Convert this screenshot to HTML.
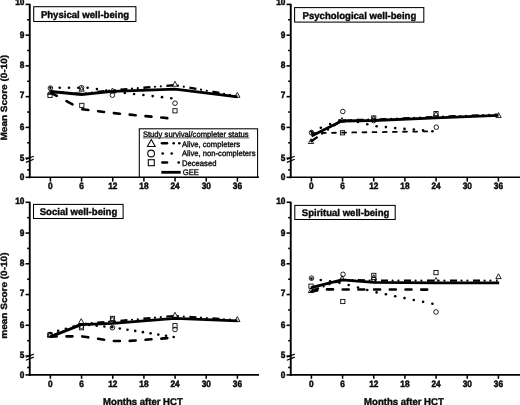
<!DOCTYPE html>
<html><head><meta charset="utf-8"><title>Figure</title>
<style>
html,body{margin:0;padding:0;background:#fff;}
body{width:520px;height:405px;overflow:hidden;}
svg{display:block;filter:blur(0.35px);}
text{font-family:"Liberation Sans",sans-serif;font-weight:bold;fill:#0a0a0a;text-rendering:geometricPrecision;}
.tl{font-size:9.2px;stroke:#0a0a0a;stroke-width:0.5;}
.yl{font-size:10px;stroke:#0a0a0a;stroke-width:0.4;}
.tt{font-size:9.8px;stroke:#0a0a0a;stroke-width:0.4;}
.xl{font-size:9.8px;stroke:#0a0a0a;stroke-width:0.4;}
.lg{font-size:8.0px;font-weight:normal;stroke:#111;stroke-width:0.38;}
.ax{stroke:#000;stroke-width:1.9;fill:none;}
.axt{stroke:#000;stroke-width:1.4;fill:none;}
.tk{stroke:#000;stroke-width:1.55;fill:none;}
.bk{stroke:#000;stroke-width:1.15;fill:none;}
.bx{stroke:#000;stroke-width:1.05;fill:#fff;}
.mk{stroke:#0a0a0a;stroke-width:0.9;fill:none;}
.mkl{stroke:#0a0a0a;stroke-width:1.1;fill:none;}
.dot{fill:#000;stroke:none;}
.gee{stroke:#000;stroke-width:2.8;fill:none;stroke-linejoin:round;}
.ac{stroke:#000;stroke-width:2.3;fill:none;}
.dec{stroke:#000;stroke-width:2.6;fill:none;stroke-linecap:round;}
.dec2{stroke:#000;stroke-width:1.8;fill:none;stroke-linecap:round;}
</style></head><body>
<svg width="520" height="405" viewBox="0 0 520 405">
<rect width="520" height="405" fill="#fff"/>
<g transform="translate(0,0)">
<path d="M29.75,3.8000000000000003 V178.20000000000002" class="ax"/>
<path d="M28.85,177.3 H259.0" class="axt"/>
<path d="M25.55,4.40 H29.75" class="tk"/>
<text transform="translate(24.35,5.35) scale(0.9,1)" class="tl" text-anchor="end">10</text>
<path d="M25.55,35.15 H29.75" class="tk"/>
<text transform="translate(24.35,37.65) scale(0.9,1)" class="tl" text-anchor="end">9</text>
<path d="M25.55,65.90 H29.75" class="tk"/>
<text transform="translate(24.35,67.60) scale(0.9,1)" class="tl" text-anchor="end">8</text>
<path d="M25.55,96.65 H29.75" class="tk"/>
<text transform="translate(24.35,98.40) scale(0.9,1)" class="tl" text-anchor="end">7</text>
<path d="M25.55,127.40 H29.75" class="tk"/>
<text transform="translate(24.35,129.70) scale(0.9,1)" class="tl" text-anchor="end">6</text>
<path d="M25.55,158.15 H29.75" class="tk"/>
<text transform="translate(24.35,160.60) scale(0.9,1)" class="tl" text-anchor="end">5</text>
<path d="M27.15,19.77 H29.75" class="tk"/>
<path d="M27.15,50.52 H29.75" class="tk"/>
<path d="M27.15,81.28 H29.75" class="tk"/>
<path d="M27.15,112.03 H29.75" class="tk"/>
<path d="M27.15,142.78 H29.75" class="tk"/>
<path d="M25.55,177.3 H29.75" class="tk"/>
<text transform="translate(24.35,179.90) scale(0.9,1)" class="tl" text-anchor="end">0</text>
<path d="M27.15,169.90 H29.75" class="tk"/>
<path d="M25.85,159.35 L33.75,156.25 M25.85,162.35 L33.75,159.25" class="bk"/>
<path d="M50.40,177.3 V181.60000000000002" class="tk"/>
<text transform="translate(50.40,189.20) scale(0.9,1)" class="tl" text-anchor="middle">0</text>
<path d="M81.57,177.3 V181.60000000000002" class="tk"/>
<text transform="translate(81.57,189.20) scale(0.9,1)" class="tl" text-anchor="middle">6</text>
<path d="M112.74,177.3 V181.60000000000002" class="tk"/>
<text transform="translate(112.74,189.20) scale(0.9,1)" class="tl" text-anchor="middle">12</text>
<path d="M143.91,177.3 V181.60000000000002" class="tk"/>
<text transform="translate(143.91,189.20) scale(0.9,1)" class="tl" text-anchor="middle">18</text>
<path d="M175.08,177.3 V181.60000000000002" class="tk"/>
<text transform="translate(175.08,189.20) scale(0.9,1)" class="tl" text-anchor="middle">24</text>
<path d="M206.25,177.3 V181.60000000000002" class="tk"/>
<text transform="translate(206.25,189.20) scale(0.9,1)" class="tl" text-anchor="middle">30</text>
<path d="M237.42,177.3 V181.60000000000002" class="tk"/>
<text transform="translate(237.42,189.20) scale(0.9,1)" class="tl" text-anchor="middle">36</text>
<text transform="translate(7.4,97.70) scale(0.9,1) rotate(-90)" class="yl" text-anchor="middle">Mean Score (0-10)</text>
<rect x="33.7" y="6.7" width="102.2" height="14.8" class="bx"/>
<text transform="translate(85.00,18.00) scale(0.976,1)" class="tt" text-anchor="middle">Physical well-being</text>
<rect x="139.3" y="128.8" width="118.30" height="48.20" class="bx"/>
<text transform="translate(142.90,136.70) scale(0.955,1)" class="lg" text-anchor="start">Study survival/completer status</text>
<path d="M142.9,137.9 H249.3" stroke="#111" stroke-width="0.7"/>
<path d="M151.30,139.51 L155.20,146.53 L147.40,146.53 Z" class="mkl"/>
<path d="M162,143.3 H167" class="ac" style="stroke-width:2.6;stroke-linecap:round"/>
<circle cx="173.70" cy="143.30" r="1.3" class="dot"/>
<circle cx="179.30" cy="143.30" r="1.3" class="dot"/>
<text transform="translate(182.00,146.60) scale(0.955,1)" class="lg" text-anchor="start">Alive, completers</text>
<circle cx="151.10" cy="153.50" r="3.4" class="mkl"/>
<circle cx="162.70" cy="153.50" r="1.35" class="dot"/>
<circle cx="171.70" cy="153.50" r="1.35" class="dot"/>
<text transform="translate(182.00,156.10) scale(0.955,1)" class="lg" text-anchor="start">Alive, non-completers</text>
<rect x="148.30" y="159.70" width="6.0" height="6.0" class="mkl"/>
<path d="M162.3,162.5 H167" class="dec" style="stroke-width:2.6;stroke-linecap:round"/>
<circle cx="178.70" cy="162.50" r="1.35" class="dot"/>
<text transform="translate(182.00,165.50) scale(0.955,1)" class="lg" text-anchor="start">Deceased</text>
<path d="M161.3,172.3 H180.7" class="gee"/>
<text transform="translate(182.70,174.80) scale(0.955,1)" class="lg" text-anchor="start">GEE</text>
<rect x="47.90" y="93.30" width="4.2" height="4.2" class="mk"/>
<rect x="79.70" y="103.30" width="4.2" height="4.2" class="mk"/>
<rect x="172.90" y="108.70" width="4.2" height="4.2" class="mk"/>
<circle cx="50.40" cy="88.10" r="2.3" class="mk"/>
<circle cx="81.50" cy="87.70" r="2.3" class="mk"/>
<circle cx="112.40" cy="95.20" r="2.3" class="mk"/>
<circle cx="175.00" cy="103.20" r="2.3" class="mk"/>
<path d="M50.40,89.47 L53.10,94.33 L47.70,94.33 Z" class="mk"/>
<path d="M81.60,86.37 L84.30,91.23 L78.90,91.23 Z" class="mk"/>
<path d="M112.50,87.97 L115.20,92.83 L109.80,92.83 Z" class="mk"/>
<path d="M175.00,81.37 L177.70,86.23 L172.30,86.23 Z" class="mk"/>
<path d="M237.30,92.47 L240.00,97.33 L234.60,97.33 Z" class="mk"/>
<circle cx="50.40" cy="87.70" r="1.3" class="dot"/>
<circle cx="59.70" cy="87.70" r="1.3" class="dot"/>
<circle cx="69.00" cy="87.70" r="1.3" class="dot"/>
<circle cx="78.30" cy="87.70" r="1.3" class="dot"/>
<circle cx="87.60" cy="87.70" r="1.3" class="dot"/>
<circle cx="96.90" cy="89.12" r="1.3" class="dot"/>
<circle cx="106.20" cy="90.60" r="1.3" class="dot"/>
<circle cx="115.50" cy="91.94" r="1.3" class="dot"/>
<circle cx="124.80" cy="92.98" r="1.3" class="dot"/>
<circle cx="134.10" cy="94.02" r="1.3" class="dot"/>
<circle cx="143.40" cy="95.06" r="1.3" class="dot"/>
<circle cx="152.70" cy="96.10" r="1.3" class="dot"/>
<circle cx="162.00" cy="97.14" r="1.3" class="dot"/>
<circle cx="171.30" cy="98.19" r="1.3" class="dot"/>
<path d="M50.70,92.66 L56.70,95.88 M66.50,101.15 L72.50,104.37 M82.30,109.30 L88.30,110.03 M98.10,111.23 L104.10,111.96 M113.90,113.12 L119.90,113.69 M129.70,114.61 L135.70,115.17 M145.50,116.09 L151.50,116.65 M161.30,117.57 L167.30,118.13" class="dec"/>
<path d="M51.40,91.86 L58.40,92.31 M74.40,93.34 L81.40,93.79 M97.40,92.00 L104.40,91.21 M120.40,89.64 L127.40,89.06 M143.40,87.73 L150.40,87.15 M166.40,85.82 L173.40,85.23 M189.40,87.66 L196.40,88.90 M212.40,91.74 L219.40,92.99 M235.40,95.83 L236.00,95.93" class="ac"/>
<circle cx="63.00" cy="92.61" r="1.1" class="dot"/>
<circle cx="68.80" cy="92.98" r="1.1" class="dot"/>
<circle cx="86.00" cy="93.29" r="1.1" class="dot"/>
<circle cx="91.80" cy="92.64" r="1.1" class="dot"/>
<circle cx="109.00" cy="90.70" r="1.1" class="dot"/>
<circle cx="114.80" cy="90.11" r="1.1" class="dot"/>
<circle cx="132.00" cy="88.68" r="1.1" class="dot"/>
<circle cx="137.80" cy="88.20" r="1.1" class="dot"/>
<circle cx="155.00" cy="86.76" r="1.1" class="dot"/>
<circle cx="160.80" cy="86.28" r="1.1" class="dot"/>
<circle cx="178.00" cy="85.63" r="1.1" class="dot"/>
<circle cx="183.80" cy="86.66" r="1.1" class="dot"/>
<circle cx="201.00" cy="89.72" r="1.1" class="dot"/>
<circle cx="206.80" cy="90.75" r="1.1" class="dot"/>
<circle cx="224.00" cy="93.80" r="1.1" class="dot"/>
<circle cx="229.80" cy="94.83" r="1.1" class="dot"/>
<path d="M50.40,91.50 L81.50,94.50 L112.50,91.30 L175.00,89.20 L237.50,96.90" class="gee"/>
</g>
<g transform="translate(261,0)">
<path d="M29.75,3.8000000000000003 V178.20000000000002" class="ax"/>
<path d="M28.85,177.3 H259.0" class="axt"/>
<path d="M25.55,4.40 H29.75" class="tk"/>
<text transform="translate(24.35,5.35) scale(0.9,1)" class="tl" text-anchor="end">10</text>
<path d="M25.55,35.15 H29.75" class="tk"/>
<text transform="translate(24.35,37.65) scale(0.9,1)" class="tl" text-anchor="end">9</text>
<path d="M25.55,65.90 H29.75" class="tk"/>
<text transform="translate(24.35,67.60) scale(0.9,1)" class="tl" text-anchor="end">8</text>
<path d="M25.55,96.65 H29.75" class="tk"/>
<text transform="translate(24.35,98.40) scale(0.9,1)" class="tl" text-anchor="end">7</text>
<path d="M25.55,127.40 H29.75" class="tk"/>
<text transform="translate(24.35,129.70) scale(0.9,1)" class="tl" text-anchor="end">6</text>
<path d="M25.55,158.15 H29.75" class="tk"/>
<text transform="translate(24.35,160.60) scale(0.9,1)" class="tl" text-anchor="end">5</text>
<path d="M27.15,19.77 H29.75" class="tk"/>
<path d="M27.15,50.52 H29.75" class="tk"/>
<path d="M27.15,81.28 H29.75" class="tk"/>
<path d="M27.15,112.03 H29.75" class="tk"/>
<path d="M27.15,142.78 H29.75" class="tk"/>
<path d="M25.55,177.3 H29.75" class="tk"/>
<text transform="translate(24.35,179.90) scale(0.9,1)" class="tl" text-anchor="end">0</text>
<path d="M27.15,169.90 H29.75" class="tk"/>
<path d="M25.85,159.35 L33.75,156.25 M25.85,162.35 L33.75,159.25" class="bk"/>
<path d="M50.40,177.3 V181.60000000000002" class="tk"/>
<text transform="translate(50.40,189.20) scale(0.9,1)" class="tl" text-anchor="middle">0</text>
<path d="M81.57,177.3 V181.60000000000002" class="tk"/>
<text transform="translate(81.57,189.20) scale(0.9,1)" class="tl" text-anchor="middle">6</text>
<path d="M112.74,177.3 V181.60000000000002" class="tk"/>
<text transform="translate(112.74,189.20) scale(0.9,1)" class="tl" text-anchor="middle">12</text>
<path d="M143.91,177.3 V181.60000000000002" class="tk"/>
<text transform="translate(143.91,189.20) scale(0.9,1)" class="tl" text-anchor="middle">18</text>
<path d="M175.08,177.3 V181.60000000000002" class="tk"/>
<text transform="translate(175.08,189.20) scale(0.9,1)" class="tl" text-anchor="middle">24</text>
<path d="M206.25,177.3 V181.60000000000002" class="tk"/>
<text transform="translate(206.25,189.20) scale(0.9,1)" class="tl" text-anchor="middle">30</text>
<path d="M237.42,177.3 V181.60000000000002" class="tk"/>
<text transform="translate(237.42,189.20) scale(0.9,1)" class="tl" text-anchor="middle">36</text>
<rect x="33.6" y="7.6" width="129.2" height="14.5" class="bx"/>
<text transform="translate(98.40,18.75) scale(0.976,1)" class="tt" text-anchor="middle">Psychological well-being</text>
<rect x="79.40" y="130.70" width="4.2" height="4.2" class="mk"/>
<rect x="110.60" y="115.90" width="4.2" height="4.2" class="mk"/>
<rect x="172.90" y="111.50" width="4.2" height="4.2" class="mk"/>
<circle cx="50.50" cy="132.60" r="2.3" class="mk"/>
<circle cx="81.80" cy="111.50" r="2.3" class="mk"/>
<circle cx="112.70" cy="120.60" r="2.3" class="mk"/>
<circle cx="175.30" cy="127.20" r="2.3" class="mk"/>
<path d="M50.00,138.66 L52.70,143.53 L47.30,143.53 Z" class="mk"/>
<path d="M81.00,117.47 L83.70,122.33 L78.30,122.33 Z" class="mk"/>
<path d="M112.70,115.77 L115.40,120.62 L110.00,120.62 Z" class="mk"/>
<path d="M175.00,111.37 L177.70,116.23 L172.30,116.23 Z" class="mk"/>
<path d="M237.50,112.57 L240.20,117.43 L234.80,117.43 Z" class="mk"/>
<circle cx="50.50" cy="131.50" r="1.3" class="dot"/>
<circle cx="59.80" cy="127.78" r="1.3" class="dot"/>
<circle cx="69.10" cy="124.06" r="1.3" class="dot"/>
<circle cx="78.40" cy="120.34" r="1.3" class="dot"/>
<circle cx="87.70" cy="120.44" r="1.3" class="dot"/>
<circle cx="97.00" cy="122.05" r="1.3" class="dot"/>
<circle cx="106.30" cy="124.32" r="1.3" class="dot"/>
<circle cx="115.60" cy="126.20" r="1.3" class="dot"/>
<circle cx="124.90" cy="127.11" r="1.3" class="dot"/>
<circle cx="134.20" cy="128.08" r="1.3" class="dot"/>
<circle cx="143.50" cy="128.89" r="1.3" class="dot"/>
<circle cx="152.80" cy="129.60" r="1.3" class="dot"/>
<circle cx="162.10" cy="130.31" r="1.3" class="dot"/>
<circle cx="171.40" cy="131.20" r="1.3" class="dot"/>
<path d="M50.70,133.20 L54.60,133.12 M60.85,133.00 L64.75,132.92 M71.00,132.80 L74.90,132.73 M81.15,132.61 L81.50,132.60 L85.05,132.55 M91.30,132.46 L95.20,132.41 M101.45,132.32 L105.35,132.26 M111.60,132.17 L115.50,132.12 M121.75,132.03 L125.65,131.97 M131.90,131.88 L135.80,131.83 M142.05,131.74 L145.95,131.68 M152.20,131.60 L156.10,131.54 M162.35,131.45 L166.00,131.40 L166.25,131.40" class="dec2"/>
<path d="M49.60,141.80 L56.60,136.92 M72.60,125.77 L79.60,120.90 M95.60,119.92 L102.60,119.79 M118.60,119.35 L125.60,119.06 M141.60,118.39 L148.60,118.10 M164.60,117.43 L171.60,117.14 M187.60,116.50 L194.60,116.22 M210.60,115.58 L217.60,115.30 M233.60,114.66 L236.00,114.56" class="ac"/>
<circle cx="61.20" cy="133.72" r="1.1" class="dot"/>
<circle cx="67.00" cy="129.68" r="1.1" class="dot"/>
<circle cx="84.20" cy="120.13" r="1.1" class="dot"/>
<circle cx="90.00" cy="120.02" r="1.1" class="dot"/>
<circle cx="107.20" cy="119.70" r="1.1" class="dot"/>
<circle cx="113.00" cy="119.58" r="1.1" class="dot"/>
<circle cx="130.20" cy="118.86" r="1.1" class="dot"/>
<circle cx="136.00" cy="118.62" r="1.1" class="dot"/>
<circle cx="153.20" cy="117.91" r="1.1" class="dot"/>
<circle cx="159.00" cy="117.67" r="1.1" class="dot"/>
<circle cx="176.20" cy="116.95" r="1.1" class="dot"/>
<circle cx="182.00" cy="116.72" r="1.1" class="dot"/>
<circle cx="199.20" cy="116.03" r="1.1" class="dot"/>
<circle cx="205.00" cy="115.80" r="1.1" class="dot"/>
<circle cx="222.20" cy="115.11" r="1.1" class="dot"/>
<circle cx="228.00" cy="114.88" r="1.1" class="dot"/>
<path d="M50.50,136.10 L80.60,121.00 L112.50,120.50 L175.00,117.90 L237.50,115.30" class="gee"/>
</g>
<g transform="translate(0,197.9)">
<path d="M29.75,3.8000000000000003 V177.9" class="ax"/>
<path d="M28.85,177.0 H259.0" class="ax"/>
<path d="M25.55,4.40 H29.75" class="tk"/>
<text transform="translate(24.35,6.15) scale(0.9,1)" class="tl" text-anchor="end">10</text>
<path d="M25.55,35.15 H29.75" class="tk"/>
<text transform="translate(24.35,37.65) scale(0.9,1)" class="tl" text-anchor="end">9</text>
<path d="M25.55,65.90 H29.75" class="tk"/>
<text transform="translate(24.35,67.60) scale(0.9,1)" class="tl" text-anchor="end">8</text>
<path d="M25.55,96.65 H29.75" class="tk"/>
<text transform="translate(24.35,98.40) scale(0.9,1)" class="tl" text-anchor="end">7</text>
<path d="M25.55,127.40 H29.75" class="tk"/>
<text transform="translate(24.35,129.70) scale(0.9,1)" class="tl" text-anchor="end">6</text>
<path d="M25.55,158.15 H29.75" class="tk"/>
<text transform="translate(24.35,159.80) scale(0.9,1)" class="tl" text-anchor="end">5</text>
<path d="M27.15,19.77 H29.75" class="tk"/>
<path d="M27.15,50.52 H29.75" class="tk"/>
<path d="M27.15,81.28 H29.75" class="tk"/>
<path d="M27.15,112.03 H29.75" class="tk"/>
<path d="M27.15,142.78 H29.75" class="tk"/>
<path d="M25.55,177.0 H29.75" class="tk"/>
<text transform="translate(24.35,179.60) scale(0.9,1)" class="tl" text-anchor="end">0</text>
<path d="M27.15,169.60 H29.75" class="tk"/>
<path d="M25.85,159.35 L33.75,156.25 M25.85,162.35 L33.75,159.25" class="bk"/>
<path d="M50.40,177.0 V180.9" class="tk"/>
<text transform="translate(50.40,189.20) scale(0.9,1)" class="tl" text-anchor="middle">0</text>
<path d="M81.57,177.0 V180.9" class="tk"/>
<text transform="translate(81.57,189.20) scale(0.9,1)" class="tl" text-anchor="middle">6</text>
<path d="M112.74,177.0 V180.9" class="tk"/>
<text transform="translate(112.74,189.20) scale(0.9,1)" class="tl" text-anchor="middle">12</text>
<path d="M143.91,177.0 V180.9" class="tk"/>
<text transform="translate(143.91,189.20) scale(0.9,1)" class="tl" text-anchor="middle">18</text>
<path d="M175.08,177.0 V180.9" class="tk"/>
<text transform="translate(175.08,189.20) scale(0.9,1)" class="tl" text-anchor="middle">24</text>
<path d="M206.25,177.0 V180.9" class="tk"/>
<text transform="translate(206.25,189.20) scale(0.9,1)" class="tl" text-anchor="middle">30</text>
<path d="M237.42,177.0 V180.9" class="tk"/>
<text transform="translate(237.42,189.20) scale(0.9,1)" class="tl" text-anchor="middle">36</text>
<text transform="translate(7.4,97.70) scale(0.9,1) rotate(-90)" class="yl" text-anchor="middle">mean Score (0-10)</text>
<text transform="translate(142.91,207.00) scale(0.976,1)" class="xl" text-anchor="middle">Months after HCT</text>
<rect x="33.5" y="6.5" width="89.6" height="14.1" class="bx"/>
<text transform="translate(78.50,17.45) scale(0.976,1)" class="tt" text-anchor="middle">Social well-being</text>
<rect x="47.90" y="134.90" width="4.2" height="4.2" class="mk"/>
<rect x="79.40" y="127.70" width="4.2" height="4.2" class="mk"/>
<rect x="110.40" y="118.40" width="4.2" height="4.2" class="mk"/>
<rect x="172.90" y="125.70" width="4.2" height="4.2" class="mk"/>
<circle cx="50.00" cy="136.70" r="2.3" class="mk"/>
<circle cx="81.50" cy="128.30" r="2.3" class="mk"/>
<circle cx="112.40" cy="129.80" r="2.3" class="mk"/>
<circle cx="175.00" cy="131.60" r="2.3" class="mk"/>
<path d="M50.00,134.36 L52.70,139.22 L47.30,139.22 Z" class="mk"/>
<path d="M81.20,120.77 L83.90,125.62 L78.50,125.62 Z" class="mk"/>
<path d="M112.30,118.67 L115.00,123.53 L109.60,123.53 Z" class="mk"/>
<path d="M175.00,114.47 L177.70,119.33 L172.30,119.33 Z" class="mk"/>
<path d="M237.30,118.77 L240.00,123.62 L234.60,123.62 Z" class="mk"/>
<circle cx="50.50" cy="135.10" r="1.3" class="dot"/>
<circle cx="58.20" cy="132.94" r="1.3" class="dot"/>
<circle cx="65.90" cy="130.78" r="1.3" class="dot"/>
<circle cx="73.60" cy="128.62" r="1.3" class="dot"/>
<circle cx="81.30" cy="126.46" r="1.3" class="dot"/>
<circle cx="89.00" cy="127.13" r="1.3" class="dot"/>
<circle cx="96.70" cy="127.87" r="1.3" class="dot"/>
<circle cx="104.40" cy="128.62" r="1.3" class="dot"/>
<circle cx="112.10" cy="129.36" r="1.3" class="dot"/>
<circle cx="119.80" cy="130.56" r="1.3" class="dot"/>
<circle cx="127.50" cy="131.79" r="1.3" class="dot"/>
<circle cx="135.20" cy="133.01" r="1.3" class="dot"/>
<circle cx="142.90" cy="134.23" r="1.3" class="dot"/>
<circle cx="150.60" cy="135.46" r="1.3" class="dot"/>
<circle cx="158.30" cy="136.68" r="1.3" class="dot"/>
<circle cx="166.00" cy="137.91" r="1.3" class="dot"/>
<circle cx="173.70" cy="139.10" r="1.3" class="dot"/>
<path d="M50.70,138.60 L56.70,138.56 M66.50,138.50 L72.50,138.46 M82.30,138.52 L88.30,139.43 M98.10,140.92 L104.10,141.83 M113.90,143.10 L119.90,143.10 M129.70,142.98 L135.70,142.54 M145.50,141.83 L151.50,141.40 M161.30,140.69 L167.30,140.25" class="dec"/>
<path d="M51.40,138.06 L58.40,135.28 M74.40,128.91 L81.20,126.20 L81.40,126.18 M97.40,124.85 L104.40,124.27 M120.40,122.89 L127.40,122.26 M143.40,120.83 L150.40,120.20 M166.40,118.77 L173.40,118.14 M189.40,118.99 L196.40,119.47 M212.40,120.57 L219.40,121.05 M235.40,122.16 L236.00,122.20" class="ac"/>
<circle cx="63.00" cy="133.44" r="1.1" class="dot"/>
<circle cx="68.80" cy="131.14" r="1.1" class="dot"/>
<circle cx="86.00" cy="125.80" r="1.1" class="dot"/>
<circle cx="91.80" cy="125.32" r="1.1" class="dot"/>
<circle cx="109.00" cy="123.89" r="1.1" class="dot"/>
<circle cx="114.80" cy="123.39" r="1.1" class="dot"/>
<circle cx="132.00" cy="121.85" r="1.1" class="dot"/>
<circle cx="137.80" cy="121.33" r="1.1" class="dot"/>
<circle cx="155.00" cy="119.79" r="1.1" class="dot"/>
<circle cx="160.80" cy="119.27" r="1.1" class="dot"/>
<circle cx="178.00" cy="118.21" r="1.1" class="dot"/>
<circle cx="183.80" cy="118.61" r="1.1" class="dot"/>
<circle cx="201.00" cy="119.79" r="1.1" class="dot"/>
<circle cx="206.80" cy="120.19" r="1.1" class="dot"/>
<circle cx="224.00" cy="121.37" r="1.1" class="dot"/>
<circle cx="229.80" cy="121.77" r="1.1" class="dot"/>
<path d="M50.30,139.00 L81.20,126.70 L112.50,125.40 L175.00,120.40 L237.50,123.00" class="gee"/>
</g>
<g transform="translate(261,197.9)">
<path d="M29.75,3.8000000000000003 V177.9" class="ax"/>
<path d="M28.85,177.0 H259.0" class="ax"/>
<path d="M25.55,4.40 H29.75" class="tk"/>
<text transform="translate(24.35,6.15) scale(0.9,1)" class="tl" text-anchor="end">10</text>
<path d="M25.55,35.15 H29.75" class="tk"/>
<text transform="translate(24.35,37.65) scale(0.9,1)" class="tl" text-anchor="end">9</text>
<path d="M25.55,65.90 H29.75" class="tk"/>
<text transform="translate(24.35,67.60) scale(0.9,1)" class="tl" text-anchor="end">8</text>
<path d="M25.55,96.65 H29.75" class="tk"/>
<text transform="translate(24.35,98.40) scale(0.9,1)" class="tl" text-anchor="end">7</text>
<path d="M25.55,127.40 H29.75" class="tk"/>
<text transform="translate(24.35,129.70) scale(0.9,1)" class="tl" text-anchor="end">6</text>
<path d="M25.55,158.15 H29.75" class="tk"/>
<text transform="translate(24.35,159.80) scale(0.9,1)" class="tl" text-anchor="end">5</text>
<path d="M27.15,19.77 H29.75" class="tk"/>
<path d="M27.15,50.52 H29.75" class="tk"/>
<path d="M27.15,81.28 H29.75" class="tk"/>
<path d="M27.15,112.03 H29.75" class="tk"/>
<path d="M27.15,142.78 H29.75" class="tk"/>
<path d="M25.55,177.0 H29.75" class="tk"/>
<text transform="translate(24.35,179.60) scale(0.9,1)" class="tl" text-anchor="end">0</text>
<path d="M27.15,169.60 H29.75" class="tk"/>
<path d="M25.85,159.35 L33.75,156.25 M25.85,162.35 L33.75,159.25" class="bk"/>
<path d="M50.40,177.0 V180.9" class="tk"/>
<text transform="translate(50.40,189.20) scale(0.9,1)" class="tl" text-anchor="middle">0</text>
<path d="M81.57,177.0 V180.9" class="tk"/>
<text transform="translate(81.57,189.20) scale(0.9,1)" class="tl" text-anchor="middle">6</text>
<path d="M112.74,177.0 V180.9" class="tk"/>
<text transform="translate(112.74,189.20) scale(0.9,1)" class="tl" text-anchor="middle">12</text>
<path d="M143.91,177.0 V180.9" class="tk"/>
<text transform="translate(143.91,189.20) scale(0.9,1)" class="tl" text-anchor="middle">18</text>
<path d="M175.08,177.0 V180.9" class="tk"/>
<text transform="translate(175.08,189.20) scale(0.9,1)" class="tl" text-anchor="middle">24</text>
<path d="M206.25,177.0 V180.9" class="tk"/>
<text transform="translate(206.25,189.20) scale(0.9,1)" class="tl" text-anchor="middle">30</text>
<path d="M237.42,177.0 V180.9" class="tk"/>
<text transform="translate(237.42,189.20) scale(0.9,1)" class="tl" text-anchor="middle">36</text>
<text transform="translate(142.91,207.00) scale(0.976,1)" class="xl" text-anchor="middle">Months after HCT</text>
<rect x="33.8" y="7.5" width="100.4" height="14.1" class="bx"/>
<text transform="translate(84.60,18.45) scale(0.976,1)" class="tt" text-anchor="middle">Spiritual well-being</text>
<rect x="47.90" y="86.20" width="4.2" height="4.2" class="mk"/>
<rect x="79.70" y="101.50" width="4.2" height="4.2" class="mk"/>
<rect x="110.70" y="75.40" width="4.2" height="4.2" class="mk"/>
<rect x="172.90" y="72.60" width="4.2" height="4.2" class="mk"/>
<circle cx="50.50" cy="80.30" r="2.3" class="mk"/>
<circle cx="82.00" cy="76.40" r="2.3" class="mk"/>
<circle cx="112.80" cy="81.30" r="2.3" class="mk"/>
<circle cx="175.00" cy="114.10" r="2.3" class="mk"/>
<path d="M50.00,89.77 L52.70,94.62 L47.30,94.62 Z" class="mk"/>
<path d="M81.00,77.77 L83.70,82.62 L78.30,82.62 Z" class="mk"/>
<path d="M112.80,76.77 L115.50,81.62 L110.10,81.62 Z" class="mk"/>
<path d="M175.00,79.57 L177.70,84.43 L172.30,84.43 Z" class="mk"/>
<path d="M237.50,75.87 L240.20,80.73 L234.80,80.73 Z" class="mk"/>
<circle cx="50.50" cy="80.70" r="1.3" class="dot"/>
<circle cx="59.80" cy="82.11" r="1.3" class="dot"/>
<circle cx="69.10" cy="83.52" r="1.3" class="dot"/>
<circle cx="78.40" cy="84.93" r="1.3" class="dot"/>
<circle cx="87.70" cy="87.09" r="1.3" class="dot"/>
<circle cx="97.00" cy="89.62" r="1.3" class="dot"/>
<circle cx="106.30" cy="92.16" r="1.3" class="dot"/>
<circle cx="115.60" cy="94.49" r="1.3" class="dot"/>
<circle cx="124.90" cy="96.39" r="1.3" class="dot"/>
<circle cx="134.20" cy="98.28" r="1.3" class="dot"/>
<circle cx="143.50" cy="100.18" r="1.3" class="dot"/>
<circle cx="152.80" cy="102.07" r="1.3" class="dot"/>
<circle cx="162.10" cy="103.97" r="1.3" class="dot"/>
<circle cx="171.40" cy="105.87" r="1.3" class="dot"/>
<path d="M50.30,93.55 L56.30,92.50 M66.00,91.51 L72.00,91.52 M81.70,91.54 L87.70,91.55 M97.40,91.57 L103.40,91.58 M113.10,91.60 L119.10,91.61 M128.80,91.63 L134.80,91.64 M144.50,91.66 L150.50,91.67 M160.20,91.69 L166.20,91.70" class="dec"/>
<path d="M51.00,92.65 L58.00,90.16 M74.00,84.48 L81.00,82.00 M97.00,82.35 L104.00,82.51 M120.00,82.70 L127.00,82.70 M143.00,82.70 L150.00,82.70 M166.00,82.70 L173.00,82.70 M189.00,82.70 L196.00,82.70 M212.00,82.70 L219.00,82.70 M235.00,82.70 L236.50,82.70" class="ac"/>
<circle cx="62.60" cy="88.53" r="1.1" class="dot"/>
<circle cx="68.40" cy="86.47" r="1.1" class="dot"/>
<circle cx="85.60" cy="82.10" r="1.1" class="dot"/>
<circle cx="91.40" cy="82.23" r="1.1" class="dot"/>
<circle cx="108.60" cy="82.61" r="1.1" class="dot"/>
<circle cx="114.40" cy="82.70" r="1.1" class="dot"/>
<circle cx="131.60" cy="82.70" r="1.1" class="dot"/>
<circle cx="137.40" cy="82.70" r="1.1" class="dot"/>
<circle cx="154.60" cy="82.70" r="1.1" class="dot"/>
<circle cx="160.40" cy="82.70" r="1.1" class="dot"/>
<circle cx="177.60" cy="82.70" r="1.1" class="dot"/>
<circle cx="183.40" cy="82.70" r="1.1" class="dot"/>
<circle cx="200.60" cy="82.70" r="1.1" class="dot"/>
<circle cx="206.40" cy="82.70" r="1.1" class="dot"/>
<circle cx="223.60" cy="82.70" r="1.1" class="dot"/>
<circle cx="229.40" cy="82.70" r="1.1" class="dot"/>
<path d="M50.00,89.80 L81.00,82.00 L112.70,84.50 L175.00,84.90 L238.20,84.90" class="gee"/>
</g>
</svg></body></html>
